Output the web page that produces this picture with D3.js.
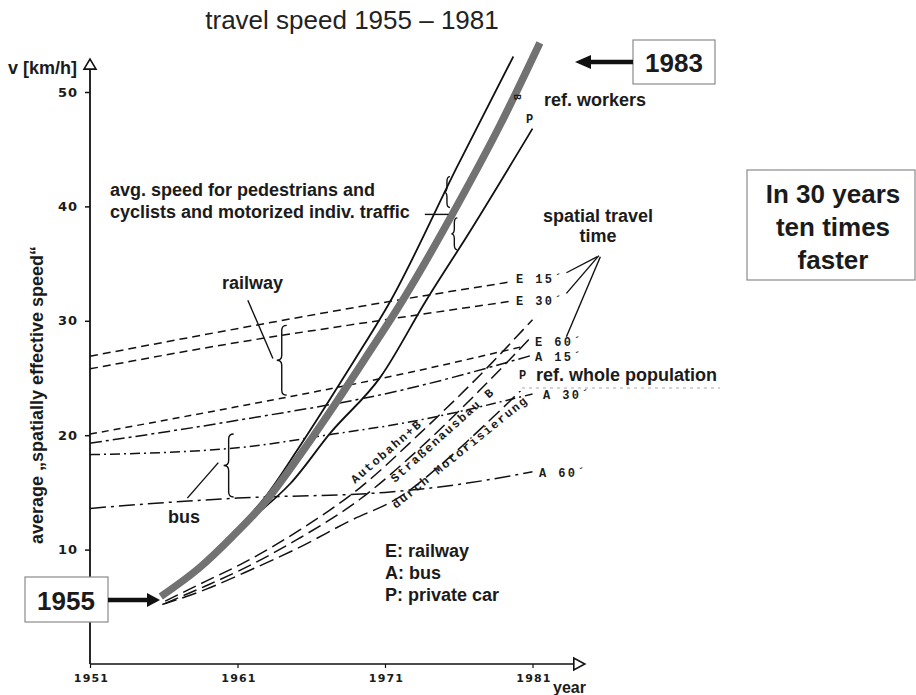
<!DOCTYPE html>
<html>
<head>
<meta charset="utf-8">
<script src="https://cdn.jsdelivr.net/npm/d3@7"></script>
<style>
body{margin:0;background:#fff;}
svg{display:block;font-family:"Liberation Sans",Arial,sans-serif;}
.lbl{font-weight:bold;font-size:18px;fill:#1b1b1b;}
.mono{font-family:"Liberation Mono","DejaVu Sans Mono",monospace;font-weight:bold;font-size:12px;fill:#1b1b1b;letter-spacing:2.4px;}
</style>
</head>
<body>
<svg id="chart" width="916" height="695"></svg>
<script>
// values: [year, km/h]
const avgSpeed = [[1955.8,5.9],[1958.5,8.5],[1960.7,11.2],[1962.9,14.2],[1965.2,18.2],[1967.4,22.3],[1969.8,27.0],[1972.2,31.8],[1975.9,40.1],[1978.8,47.1],[1981.5,54.3]];
const carWorkers = [[1960.6,11.3],[1963,14.8],[1965,18.6],[1967,22.6],[1969,26.7],[1971.4,31.8],[1975.9,43.5],[1979.7,53.1]];
const carPopulation = [[1962.2,13.0],[1964.6,15.8],[1967.3,20.2],[1970.7,25.1],[1973.8,31.8],[1976.8,37.9],[1981.0,46.8]];

const railway15 = [[1951,26.9],[1960.5,29.2],[1970,31.4],[1979.5,33.4]];
const railway30 = [[1951,25.8],[1960.5,28.0],[1970,29.9],[1979.5,31.7]];
const railway60 = [[1951,20.1],[1961,22.5],[1972,25.3],[1980.5,27.8]];
const bus15 = [[1951,19.3],[1961,21.3],[1972,23.9],[1981,27.0]];
const bus30 = [[1951,18.3],[1961,18.9],[1967.5,20.1],[1972,21.0],[1981,23.6]];
const bus60 = [[1951,13.6],[1956,14.1],[1961,14.5],[1971,15.0],[1976,15.7],[1981,16.8]];

const roadAutobahn = [[1956.1,5.5],[1958.8,7.2],[1961.5,8.9],[1965.2,11.7],[1969.3,15.4],[1973.4,20.2],[1977.4,25.2],[1981,30.1]];
const roadAusbau = [[1956.1,5.3],[1958.8,6.8],[1961.5,8.4],[1965.2,11.0],[1969.3,14.4],[1973.4,18.9],[1977.4,23.9],[1981,28.7]];
const roadMotor = [[1955.9,5.2],[1958.8,6.5],[1961.5,8.0],[1965.2,10.2],[1968.6,12.5],[1972,14.6],[1975.4,18.1],[1978.1,21.3],[1980.2,23.9]];

const yTicks = [10,20,30,40,50];
const xTicks = [1951,1961,1971,1981];

// braces and pointer strokes, also in [year, km/h]
const railBrace = [1964.0, 29.6, 23.5];
const busBrace = [1960.4, 20.1, 14.6];
const trafficBraces = [[1975.2, 42.6, 39.9],[1975.7, 39.0, 36.2]];
const pointers = [
    [[1961.7,31.8],[1963.4,26.7]],
    [[1957.6,14.5],[1959.7,17.6]],
    [[1973.7,39.3],[1975.3,39.3]],
    [[1985.4,35.6],[1983.3,34.2]],
    [[1985.5,35.7],[1983.3,32.4]],
    [[1985.6,35.6],[1983.3,28.6]]
];

let svg = d3.select("#chart");
let x = d3.scaleLinear().domain([1951,1981]).range([90,532.5]);
let y = d3.scaleLinear().domain([0,50]).range([664,92]);

let line = d3.line()
    .x(d => x(d[0]))
    .y(d => y(d[1]))
    .curve(d3.curveMonotoneX);

// axes
let x0 = x(1951), y0 = y(0);
svg.append("line").attr("x1",x0).attr("x2",x0).attr("y1",y0).attr("y2",y(52))
    .attr("stroke","#111").attr("stroke-width",1.8);
svg.append("line").attr("x1",x0).attr("x2",x(1983.8)).attr("y1",y0).attr("y2",y0)
    .attr("stroke","#111").attr("stroke-width",1.6);
svg.append("path")
    .attr("d",`M${x0-6},${y(52)} L${x0+6},${y(52)} L${x0},${y(52)-10} Z`)
    .attr("fill","#fff").attr("stroke","#111").attr("stroke-width",1.6);
svg.append("path")
    .attr("d",`M${x(1983.8)},${y0-6} L${x(1983.8)},${y0+6} L${x(1983.8)+11},${y0} Z`)
    .attr("fill","#fff").attr("stroke","#111").attr("stroke-width",1.6);

let yAxis = svg.append("g")
    .attr("transform",`translate(${x0},0)`)
    .call(d3.axisLeft(y).tickValues(yTicks).tickSize(5).tickPadding(7));
yAxis.select(".domain").remove();
yAxis.selectAll("line").attr("stroke","#111").attr("stroke-width",1.5);
yAxis.selectAll("text")
    .style("font-family","'DejaVu Sans',sans-serif")
    .style("font-weight","bold").style("font-size","13px")
    .style("letter-spacing","1px").attr("fill","#1b1b1b");

let xAxis = svg.append("g")
    .attr("transform",`translate(0,${y0})`)
    .call(d3.axisBottom(x).tickValues(xTicks).tickFormat(d3.format("d")).tickSize(4).tickPadding(6));
xAxis.select(".domain").remove();
xAxis.selectAll("line").attr("stroke","#111").attr("stroke-width",1.2);
xAxis.selectAll("text")
    .attr("dx",1)
    .style("font-family","'DejaVu Sans',sans-serif")
    .style("font-weight","bold").style("font-size","11px")
    .style("letter-spacing","1.2px").attr("fill","#1b1b1b");

// dashed series
let dashed = [
    {data: railway15, dash: "8,5"},
    {data: railway30, dash: "8,5"},
    {data: railway60, dash: "7,5"},
    {data: bus15, dash: "12,4,3,4"},
    {data: bus30, dash: "10,4,2,4"},
    {data: bus60, dash: "16,5,3,5"},
    {data: roadAutobahn, dash: "14,6"},
    {data: roadAusbau, dash: "14,6"},
    {data: roadMotor, dash: "15,6"}
];
svg.selectAll(".dashed")
    .data(dashed)
    .enter().append("path")
    .attr("class","dashed")
    .attr("d", d => line(d.data))
    .attr("fill","none")
    .attr("stroke","#111")
    .attr("stroke-width",1.5)
    .attr("stroke-dasharray", d => d.dash);

// private car curves
svg.selectAll(".car")
    .data([carWorkers, carPopulation])
    .enter().append("path")
    .attr("class","car")
    .attr("d", d => line(d))
    .attr("fill","none")
    .attr("stroke","#111")
    .attr("stroke-width",1.8);

// average speed, thick grey
svg.append("path")
    .attr("d", line(avgSpeed))
    .attr("fill","none")
    .attr("stroke","#727272")
    .attr("stroke-width",7.5)
    .attr("stroke-linecap","butt");

// braces
function brace(b, w){
    let bx = x(b[0]), y1 = y(b[1]), y2 = y(b[2]);
    let ym = (y1 + y2) / 2, q = Math.min(5, (y2 - y1) / 4);
    return `M${bx+w},${y1} Q${bx},${y1} ${bx},${y1+q} L${bx},${ym-q} Q${bx},${ym} ${bx-w},${ym}`
        + ` Q${bx},${ym} ${bx},${ym+q} L${bx},${y2-q} Q${bx},${y2} ${bx+w},${y2}`;
}
svg.selectAll(".brace")
    .data([[railBrace,5],[busBrace,5],[trafficBraces[0],3],[trafficBraces[1],3]])
    .enter().append("path")
    .attr("class","brace")
    .attr("d", d => brace(d[0], d[1]))
    .attr("fill","none").attr("stroke","#111").attr("stroke-width",1.4);

svg.selectAll(".pointer")
    .data(pointers)
    .enter().append("line")
    .attr("class","pointer")
    .attr("x1", d => x(d[0][0])).attr("y1", d => y(d[0][1]))
    .attr("x2", d => x(d[1][0])).attr("y2", d => y(d[1][1]))
    .attr("stroke","#111").attr("stroke-width",1.4);

// faint rule under "ref. whole population"
svg.append("line").attr("x1",522).attr("x2",720).attr("y1",388).attr("y2",388)
    .attr("stroke","#aaa").attr("stroke-width",1).attr("stroke-dasharray","3,4");

// title and axis titles
svg.append("text").attr("x",352).attr("y",29).attr("text-anchor","middle")
    .style("font-size","26px").attr("fill","#222").text("travel speed 1955 – 1981");
svg.append("text").attr("class","lbl").attr("x",8).attr("y",74)
    .style("font-size","18px").text("v [km/h]");
svg.append("text").attr("class","lbl").attr("x",553).attr("y",693)
    .style("font-size","16px").text("year");
svg.append("text").attr("class","lbl")
    .attr("transform","translate(43,395) rotate(-90)")
    .attr("text-anchor","middle").style("font-size","18px")
    .text("average „spatially effective speed“");

// annotation labels
let labels = [
    ["avg. speed for pedestrians and", 110, 196],
    ["cyclists and motorized indiv. traffic", 110, 218],
    ["railway", 222, 289],
    ["bus", 168, 523],
    ["ref. workers", 544, 106],
    ["ref. whole population", 536, 381],
    ["E: railway", 385, 557],
    ["A: bus", 385, 579],
    ["P: private car", 385, 601]
];
svg.selectAll(".ann")
    .data(labels)
    .enter().append("text")
    .attr("class","lbl ann")
    .attr("x", d => d[1]).attr("y", d => d[2])
    .text(d => d[0]);
svg.append("text").attr("class","lbl").attr("x",598).attr("y",222)
    .attr("text-anchor","middle").text("spatial travel");
svg.append("text").attr("class","lbl").attr("x",598).attr("y",242)
    .attr("text-anchor","middle").text("time");

let marks = [
    ["E 15´", 516, 283],
    ["E 30´", 516, 305],
    ["E 60´", 535, 346],
    ["A 15´", 535, 361],
    ["P", 519, 379],
    ["A 30´", 543, 399],
    ["A 60´", 539, 477],
    ["P", 526, 123]
];
svg.selectAll(".mk")
    .data(marks)
    .enter().append("text")
    .attr("class","mono mk")
    .attr("x", d => d[1]).attr("y", d => d[2])
    .text(d => d[0]);
svg.append("text").attr("class","mono")
    .attr("transform","translate(514,94) rotate(90)")
    .style("font-size","10px").text("B");

let roadLabels = [
    ["Autobahn+B", 355, 484, -41],
    ["Straßenausbau B", 395, 483, -42],
    ["durch Motorisierung", 396, 509, -39]
];
svg.selectAll(".road")
    .data(roadLabels)
    .enter().append("text")
    .attr("class","mono road")
    .attr("transform", d => `translate(${d[1]},${d[2]}) rotate(${d[3]})`)
    .style("letter-spacing","1.8px")
    .text(d => d[0]);

// boxes with arrows
function box(bx, by, bw, bh){
    svg.append("rect").attr("x",bx).attr("y",by).attr("width",bw).attr("height",bh)
        .attr("fill","#fff").attr("stroke","#8a8a8a").attr("stroke-width",1.2);
}
box(633,40,82,44);
svg.append("text").attr("class","lbl").attr("x",674).attr("y",72)
    .attr("text-anchor","middle").style("font-size","26px").text("1983");
svg.append("line").attr("x1",633).attr("x2",588).attr("y1",62).attr("y2",62)
    .attr("stroke","#111").attr("stroke-width",4.5);
svg.append("path").attr("d","M575,62 L591,55 L591,69 Z").attr("fill","#111");

box(25,577,83,45);
svg.append("text").attr("class","lbl").attr("x",66).attr("y",610)
    .attr("text-anchor","middle").style("font-size","26px").text("1955");
svg.append("line").attr("x1",108).attr("x2",149).attr("y1",600).attr("y2",600)
    .attr("stroke","#111").attr("stroke-width",4.5);
svg.append("path").attr("d","M160,600 L147,593 L147,607 Z").attr("fill","#111");

box(747,170,168,110);
let claim = ["In 30 years","ten times","faster"];
svg.selectAll(".claim")
    .data(claim)
    .enter().append("text")
    .attr("class","lbl claim")
    .attr("x",833).attr("y",(d,i) => 203 + i*33)
    .attr("text-anchor","middle")
    .style("font-size","26px")
    .text(d => d);
</script>
</body>
</html>
